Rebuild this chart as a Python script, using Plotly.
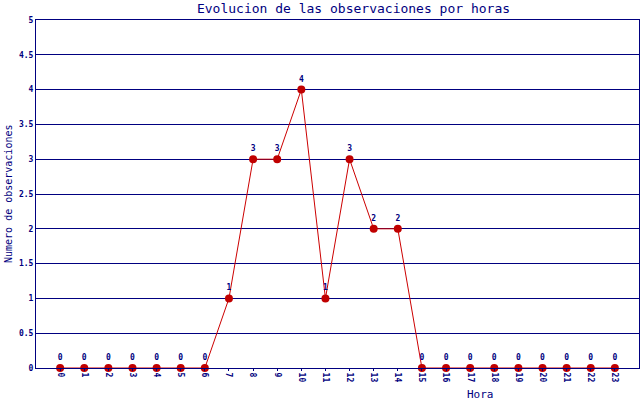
import plotly.graph_objects as go

horas = list(range(24))
observaciones = [0, 0, 0, 0, 0, 0, 0, 1, 3, 3, 4, 1, 3, 2, 2, 0, 0, 0, 0, 0, 0, 0, 0, 0]
y_ticks = [0, 0.5, 1, 1.5, 2, 2.5, 3, 3.5, 4, 4.5, 5]

navy = "#000080"
font_mono = "DejaVu Sans Mono"

fig = go.Figure()
fig.add_trace(go.Scatter(
    x=horas,
    y=observaciones,
    mode="lines+markers+text",
    line=dict(color="#cc0000", width=1),
    marker=dict(color="#c00000", size=8),
    text=[str(v) for v in observaciones],
    textposition="top center",
    textfont=dict(family=font_mono, size=8, color=navy, weight="bold"),
    cliponaxis=False,
    showlegend=False,
))

fig.update_layout(
    width=640,
    height=400,
    margin=dict(l=36, r=1, t=20, b=32, autoexpand=False),
    paper_bgcolor="white",
    plot_bgcolor="white",
    title=dict(
        text="Evolucion de las observaciones por horas",
        font=dict(family=font_mono, size=13, color=navy),
        x=337 / 640, xanchor="center", xref="paper", y=0.99, yanchor="top",
    ),
    font=dict(family=font_mono, color=navy),
)

fig.update_xaxes(
    range=[-1, 24],
    automargin=False,
    tickmode="array",
    tickvals=horas,
    ticktext=[str(h) for h in horas],
    tickangle=90,
    tickfont=dict(family=font_mono, size=8, color=navy, weight="bold"),
    showgrid=False,
    zeroline=False,
    showline=True,
    linecolor=navy,
    linewidth=1,
    mirror=True,
    ticks="outside",
    ticklen=2,
    tickcolor=navy,
)
fig.update_yaxes(
    range=[0, 5],
    automargin=False,
    tickmode="array",
    tickvals=y_ticks,
    ticktext=[f"{v:g}" for v in y_ticks],
    tickfont=dict(family=font_mono, size=8, color=navy, weight="bold"),
    showgrid=True,
    gridcolor=navy,
    gridwidth=1,
    zeroline=False,
    showline=True,
    linecolor=navy,
    linewidth=1,
    mirror=True,
    ticks="",
)

fig.add_annotation(
    text="Hora", xref="paper", yref="paper",
    x=(480 - 36) / 603, y=-26 / 348, xanchor="center", yanchor="middle",
    showarrow=False, font=dict(family=font_mono, size=11, color=navy),
)
fig.add_annotation(
    text="Numero de observaciones", xref="paper", yref="paper",
    x=-28 / 603, y=0.5, xanchor="center", yanchor="middle", textangle=-90,
    showarrow=False, font=dict(family=font_mono, size=10, color=navy),
)

# the page body has an 8px margin by default; drop it so the figure fills the window
fig.write_html(
    "out.html",
    config={"displayModeBar": False},
    post_script="document.body.style.margin='0';",
)
